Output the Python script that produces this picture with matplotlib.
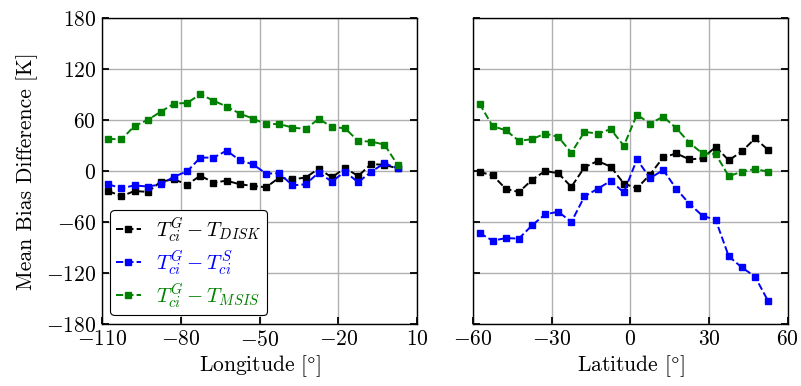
import matplotlib
matplotlib.use("Agg")
import matplotlib.pyplot as plt

# ---------------------------------------------------------------------------
# Data: mean bias differences binned every 5 degrees
# ---------------------------------------------------------------------------

lon = [-107.5, -102.5, -97.5, -92.5, -87.5, -82.5, -77.5, -72.5, -67.5, -62.5,
       -57.5, -52.5, -47.5, -42.5, -37.5, -32.5, -27.5, -22.5, -17.5, -12.5,
       -7.5, -2.5, 2.5]
lon_disk = [-23.5, -29.8, -23.5, -24.7, -12.5, -9.8, -16.1, -5.5, -13.7, -11.4,
            -15.7, -17.6, -19.2, -7.8, -9.8, -7.8, 2.7, -7.5, 3.5, -5.9,
            8.2, 7.1, 3.1]
lon_sat = [-15.7, -20.4, -16.9, -18.4, -15.7, -6.7, -0.4, 15.7, 15.7, 23.9,
           12.5, 7.8, -3.1, -2.7, -16.9, -15.7, -2.0, -12.5, -0.8, -13.3,
           -0.8, 9.0, 3.1]
lon_msis = [37.6, 37.3, 52.9, 60.0, 69.8, 79.2, 80.0, 90.2, 82.7, 75.7,
            67.5, 61.6, 54.9, 55.3, 51.0, 49.4, 61.2, 51.8, 50.2, 35.3,
            34.5, 31.0, 7.1]

lat = [-57.5, -52.5, -47.5, -42.5, -37.5, -32.5, -27.5, -22.5, -17.5, -12.5,
       -7.5, -2.5, 2.5, 7.5, 12.5, 17.5, 22.5, 27.5, 32.5, 37.5,
       42.5, 47.5, 52.5]
lat_disk = [-1.2, -5.1, -21.0, -24.9, -10.5, 0.0, -2.7, -18.7, 4.3, 11.7,
            5.1, -14.8, -20.3, -4.3, 16.0, 20.6, 13.6, 14.8, 28.4, 12.5,
            23.0, 38.2, 24.9]
lat_sat = [-73.0, -82.0, -79.0, -79.5, -64.0, -51.0, -48.0, -60.0, -30.0, -21.0,
           -11.7, -25.3, 13.6, -8.6, 1.2, -21.0, -38.7, -52.7, -57.5, -100.4,
           -113.5, -124.2, -153.0]
lat_msis = [79.1, 52.6, 47.9, 35.4, 37.4, 44.0, 40.1, 21.4, 46.0, 44.0,
            49.1, 29.6, 66.2, 55.7, 63.9, 50.3, 33.1, 20.6, 19.9, -6.2,
            -0.8, 2.3, -0.8]

labels = [r"$T_{ci}^{G}-T_{DISK}$", r"$T_{ci}^{G}-T_{ci}^{S}$",
          r"$T_{ci}^{G}-T_{MSIS}$"]
colors = ["k", "b", "g"]

plt.rcParams.update({
    "font.family": "serif",
    "font.serif": ["cmr10"],
    "mathtext.fontset": "cm",
    "axes.formatter.use_mathtext": True,
    "font.size": 15,
})


def style_axes(ax, xlim, xticks):
    ax.set_xlim(*xlim)
    ax.set_xticks(xticks)
    ax.set_ylim(-180, 180)
    ax.set_yticks(range(-180, 181, 60))
    ax.grid(True, color="#b0b0b0", linewidth=1.0)
    ax.set_axisbelow(True)
    ax.tick_params(direction="in", left=True, right=True, length=5,
                   width=1.3, labelsize=15.5, pad=4)
    for sp in ax.spines.values():
        sp.set_linewidth(1.0)


fig = plt.figure(figsize=(8.01, 3.86), dpi=100)
ax1 = fig.add_axes([0.127, 0.1606, 0.394, 0.793])
ax2 = fig.add_axes([0.5905, 0.1606, 0.393, 0.793])

for ys, lab, c in zip([lon_disk, lon_sat, lon_msis], labels, colors):
    ax1.plot(lon, ys, "--s", color=c, ms=4.2, lw=1.4, label=lab)
for ys, c in zip([lat_disk, lat_sat, lat_msis], colors):
    ax2.plot(lat, ys, "--s", color=c, ms=4.2, lw=1.4)

style_axes(ax1, (-110, 10), [-110, -80, -50, -20, 10])
style_axes(ax2, (-60, 60), [-60, -30, 0, 30, 60])
ax2.tick_params(labelleft=False)

ax1.set_xlabel(r"Longitude [$\degree$]", fontsize=15.5, labelpad=3)
ax2.set_xlabel(r"Latitude [$\degree$]", fontsize=15.5, labelpad=3)
ax1.set_ylabel("Mean Bias Difference [K]", fontsize=15.5, labelpad=6)

leg = ax1.legend(loc="lower left", fontsize=15, handlelength=1.2,
                 handletextpad=0.75, borderaxespad=0.42, borderpad=0.25,
                 fancybox=True, framealpha=1, edgecolor="k",
                 labelspacing=0.2)
leg.get_frame().set_linewidth(0.8)
for txt, c in zip(leg.get_texts(), colors):
    txt.set_color(c)

fig.savefig("out.png", dpi=100)
